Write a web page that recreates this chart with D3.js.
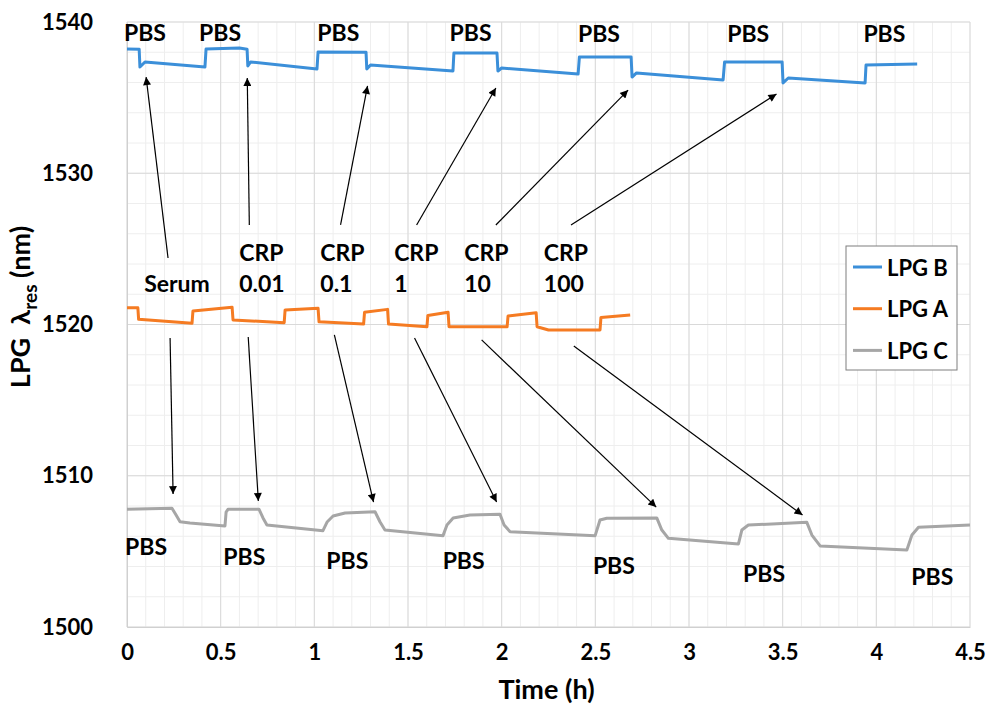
<!DOCTYPE html>
<html>
<head>
<meta charset="utf-8">
<script src="https://cdn.jsdelivr.net/npm/d3@7"></script>
<style>
    body { margin: 0; background: #fff; }
    text { font-family: Lato, "Open Sans", sans-serif; font-weight: bold; fill: #000; }
</style>
</head>
<body>
<svg id="chart"></svg>
<script>
// axis ticks
const xTicks = [0, 0.5, 1, 1.5, 2, 2.5, 3, 3.5, 4, 4.5];
const yTicks = [1500, 1510, 1520, 1530, 1540];

// resonance wavelength (nm) vs time (h)
const lpgB = [
    [0, 1538.21], [0.065, 1538.2], [0.069, 1537.02], [0.096, 1537.36], [0.416, 1537.02],
    [0.422, 1538.21], [0.60, 1538.28], [0.641, 1538.2], [0.645, 1537.09], [0.66, 1537.36], [1.014, 1536.89],
    [1.02, 1538.02], [1.276, 1538.0], [1.28, 1536.89], [1.30, 1537.16], [1.74, 1536.76],
    [1.745, 1537.95], [1.975, 1537.95], [1.98, 1536.76], [2.0, 1536.96], [2.408, 1536.56],
    [2.415, 1537.69], [2.691, 1537.69], [2.696, 1536.36], [2.72, 1536.63], [3.182, 1536.17],
    [3.19, 1537.36], [3.497, 1537.36], [3.502, 1535.97], [3.53, 1536.30], [3.94, 1535.97],
    [3.945, 1537.16], [4.218, 1537.22]
];
const lpgA = [
    [0, 1521.11], [0.058, 1521.1], [0.062, 1520.34], [0.347, 1520.08],
    [0.352, 1520.89], [0.561, 1521.14], [0.566, 1520.30], [0.839, 1520.12],
    [0.844, 1520.96], [1.020, 1521.07], [1.025, 1520.18], [1.263, 1520.03],
    [1.268, 1520.81], [1.391, 1521.0], [1.396, 1520.03], [1.601, 1519.85],
    [1.606, 1520.6], [1.714, 1520.81], [1.719, 1519.85], [2.029, 1519.85],
    [2.034, 1520.56], [2.184, 1520.78], [2.189, 1519.85], [2.25, 1519.64], [2.525, 1519.64],
    [2.53, 1520.47], [2.686, 1520.63]
];
const lpgC = [
    [0, 1507.78], [0.24, 1507.85], [0.262, 1507.40], [0.283, 1506.96], [0.336, 1506.88], [0.523, 1506.68],
    [0.529, 1507.60], [0.539, 1507.78], [0.705, 1507.78], [0.726, 1507.21], [0.747, 1506.74], [1.046, 1506.37],
    [1.068, 1506.94], [1.100, 1507.34], [1.164, 1507.54], [1.324, 1507.62],
    [1.351, 1506.94], [1.377, 1506.41], [1.687, 1506.04],
    [1.708, 1506.74], [1.741, 1507.21], [1.831, 1507.40], [1.991, 1507.45],
    [2.013, 1506.74], [2.045, 1506.30], [2.499, 1506.04],
    [2.525, 1507.07], [2.561, 1507.19], [2.828, 1507.21],
    [2.855, 1506.41], [2.89, 1505.86], [3.264, 1505.49],
    [3.282, 1506.41], [3.317, 1506.74], [3.629, 1506.92],
    [3.656, 1506.08], [3.70, 1505.36], [4.163, 1505.09],
    [4.19, 1506.08], [4.225, 1506.59], [4.5, 1506.74]
];
const seriesNames = ["LPG B", "LPG A", "LPG C"];
const seriesColors = ["#3b8fd9", "#f57b22", "#a6a6a6"];

// annotations (data coordinates)
const pbsTop = [[0.096, 1539.34], [0.497, 1539.34], [1.128, 1539.34], [1.834, 1539.34], [2.519, 1539.27], [3.316, 1539.27], [4.043, 1539.27]];
const pbsBottom = [[0.102, 1505.36], [0.626, 1504.69], [1.176, 1504.43], [1.797, 1504.43], [2.599, 1504.10], [3.401, 1503.57], [4.299, 1503.37]];
const crpValues = ["0.01", "0.1", "1", "10", "100"];
const crpX = [0.599, 1.032, 1.426, 1.800, 2.225];
const crpY = [1524.79, 1522.74];
const serumPos = [0.267, 1522.74];
const arrowsUp = [
    [0.219, 1524.4, 0.102, 1536.36], [0.653, 1526.58, 0.642, 1536.30], [1.140, 1526.58, 1.284, 1535.77],
    [1.546, 1526.58, 1.969, 1535.64], [1.969, 1526.58, 2.675, 1535.50], [2.370, 1526.58, 3.467, 1535.24]
];
const arrowsDown = [
    [0.230, 1519.11, 0.246, 1508.79], [0.647, 1519.17, 0.701, 1508.33], [1.107, 1519.31, 1.316, 1508.26],
    [1.535, 1519.11, 1.973, 1508.26], [1.893, 1518.98, 2.825, 1507.93], [2.385, 1518.58, 3.606, 1507.40]
];

const margin = {top: 22, right: 19, bottom: 78, left: 127};
const outerWidth = 989, outerHeight = 705;
const width = outerWidth - margin.left - margin.right;
const height = outerHeight - margin.top - margin.bottom;

const svg = d3.select("#chart")
    .attr("width", outerWidth)
    .attr("height", outerHeight);

svg.append("defs").append("marker")
    .attr("id", "arrow")
    .attr("viewBox", "0 0 10 10")
    .attr("refX", 10).attr("refY", 5)
    .attr("markerWidth", 10).attr("markerHeight", 8)
    .attr("markerUnits", "userSpaceOnUse")
    .attr("orient", "auto")
    .append("path")
    .attr("d", "M0,0 L10,5 L0,10 z")
    .attr("fill", "#000");

const g = svg.append("g").attr("transform", `translate(${margin.left}, ${margin.top})`);

const x = d3.scaleLinear().domain([0, 4.5]).range([0, width]);
const y = d3.scaleLinear().domain([1500, 1540]).range([height, 0]);

// gridlines: minor first, major on top
const grid = g.append("g").attr("class", "grid");
grid.selectAll(".vminor")
    .data(d3.range(0, 46).map(i => i / 10))
    .join("line")
    .attr("x1", d => x(d)).attr("x2", d => x(d))
    .attr("y1", 0).attr("y2", height)
    .attr("stroke", "#eeeeee");
grid.selectAll(".hminor")
    .data(d3.range(1500, 1541, 2))
    .join("line")
    .attr("y1", d => y(d)).attr("y2", d => y(d))
    .attr("x1", 0).attr("x2", width)
    .attr("stroke", "#eeeeee");
grid.append("g").selectAll("line")
    .data(xTicks)
    .join("line")
    .attr("x1", d => x(d)).attr("x2", d => x(d))
    .attr("y1", 0).attr("y2", height)
    .attr("stroke", "#d9d9d9");
grid.append("g").selectAll("line")
    .data(yTicks)
    .join("line")
    .attr("y1", d => y(d)).attr("y2", d => y(d))
    .attr("x1", 0).attr("x2", width)
    .attr("stroke", "#d9d9d9");

// axes
const xAxis = g.append("g")
    .attr("transform", `translate(0, ${height})`)
    .call(d3.axisBottom(x).tickValues(xTicks).tickSize(0).tickPadding(17).tickFormat(d3.format("")));
xAxis.select(".domain").attr("stroke", "#d0d0d0");
xAxis.selectAll("text").style("font-size", "22px");

const yAxis = g.append("g")
    .call(d3.axisLeft(y).tickValues(yTicks).tickSize(0).tickPadding(34).tickFormat(d3.format("d")));
yAxis.select(".domain").attr("stroke", "#d0d0d0");
yAxis.selectAll("text").style("font-size", "22px");

svg.append("text")
    .attr("x", margin.left + width / 2 - 2)
    .attr("y", 699)
    .attr("text-anchor", "middle")
    .style("font-size", "27px")
    .text("Time (h)");

const yTitle = svg.append("text")
    .attr("transform", "translate(30, 307) rotate(-90)")
    .attr("text-anchor", "middle")
    .style("font-size", "27px");
yTitle.append("tspan").text("LPG\u00A0\u00A0λ");
yTitle.append("tspan").attr("dy", 7).style("font-size", "19px").text("res");
yTitle.append("tspan").attr("dy", -7).text("\u00A0(nm)");

// series
const line = d3.line().x(d => x(d[0])).y(d => y(d[1]));
[lpgB, lpgA, lpgC].forEach((data, i) => {
    g.append("path")
        .datum(data)
        .attr("fill", "none")
        .attr("stroke", seriesColors[i])
        .attr("stroke-width", 3)
        .attr("stroke-linejoin", "round")
        .attr("d", line);
});

// arrows
g.append("g").selectAll("line")
    .data(arrowsUp.concat(arrowsDown))
    .join("line")
    .attr("x1", d => x(d[0])).attr("y1", d => y(d[1]))
    .attr("x2", d => x(d[2])).attr("y2", d => y(d[3]))
    .attr("stroke", "#000")
    .attr("stroke-width", 1.2)
    .attr("marker-end", "url(#arrow)");

// labels
const labels = g.append("g").style("font-size", "23px");
labels.selectAll(".pbs")
    .data(pbsTop.concat(pbsBottom))
    .join("text")
    .attr("x", d => x(d[0])).attr("y", d => y(d[1]))
    .attr("text-anchor", "middle")
    .attr("dominant-baseline", "central")
    .text("PBS");
labels.append("text")
    .attr("x", x(serumPos[0])).attr("y", y(serumPos[1]))
    .attr("text-anchor", "middle")
    .attr("dominant-baseline", "central")
    .text("Serum");
crpValues.forEach((v, i) => {
    labels.append("text")
        .attr("x", x(crpX[i])).attr("y", y(crpY[0]))
        .attr("dominant-baseline", "central")
        .text("CRP");
    labels.append("text")
        .attr("x", x(crpX[i])).attr("y", y(crpY[1]))
        .attr("dominant-baseline", "central")
        .text(v);
});

// legend
const legend = svg.append("g").attr("transform", "translate(846, 246)");
legend.append("rect")
    .attr("width", 111).attr("height", 124)
    .attr("fill", "#fff")
    .attr("stroke", "#7f7f7f");
seriesNames.forEach((name, i) => {
    const ly = 21 + i * 41.7;
    legend.append("line")
        .attr("x1", 7).attr("x2", 36)
        .attr("y1", ly).attr("y2", ly)
        .attr("stroke", seriesColors[i])
        .attr("stroke-width", 3);
    legend.append("text")
        .attr("x", 41).attr("y", ly)
        .attr("dominant-baseline", "central")
        .style("font-size", "22px")
        .text(name);
});
</script>
</body>
</html>
